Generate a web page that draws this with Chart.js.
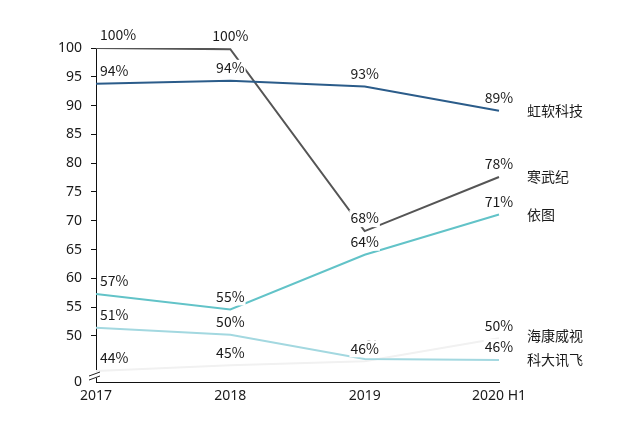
<!DOCTYPE html>
<html>
<head>
<meta charset="utf-8">
<script src="https://cdn.jsdelivr.net/npm/chart.js@4"></script>
<style>
  body { margin: 0; background: #fff; }
  #wrap { width: 625px; height: 435px; }
</style>
</head>
<body>
<div id="wrap"><canvas id="chart" width="625" height="435"></canvas></div>
<script>
const anos = ["2017", "2018", "2019", "2020 H1"];
const nomes = ["虹软科技", "寒武纪", "依图", "科大讯飞", "海康威视"];
const hongruan = [93.8, 94.3, 93.3, 89.1];
const hanwuji = [100, 99.8, 68.2, 77.6];
const yitu = [57.3, 54.6, 64.1, 71.1];
const keda = [51.4, 50.2, 46.0, 45.8];
const haikang = [43.9, 44.9, 45.6, 49.6];
const cores = ["#2b5c8a", "#555555", "#62c3c8", "#a3d8e0", "#f1f1f1"];
const yTicks = [42, 50, 55, 60, 65, 70, 75, 80, 85, 90, 95, 100];

const fonte = '14px "Noto Sans CJK SC", "Noto Sans", sans-serif';

// rótulos de dados + nomes das séries à direita + quebra do eixo
const rotulos = {
  id: "rotulos",
  afterDatasetsDraw(chart) {
    const ctx = chart.ctx;
    ctx.save();
    ctx.font = fonte;
    ctx.textBaseline = "middle";
    chart.data.datasets.forEach((ds, d) => {
      const meta = chart.getDatasetMeta(d);
      meta.data.forEach((pt, i) => {
        const txt = Math.round(ds.data[i]) + "%";
        const w = ctx.measureText(txt).width;
        const x = i === 0 ? pt.x + 4 : pt.x - w / 2;
        const y = pt.y - 13;
        ctx.fillStyle = "#fff";
        ctx.fillRect(x - 1, y - 8, w + 2, 17);
        ctx.fillStyle = "#1a1a1a";
        ctx.textAlign = "left";
        ctx.fillText(txt, x, y);
      });
      const last = meta.data[meta.data.length - 1];
      ctx.fillStyle = "#1a1a1a";
      ctx.textAlign = "left";
      ctx.fillText(ds.label, 527, last.y + (d === 4 ? -3 : 0));
    });
    // quebra do eixo y
    const x0 = chart.chartArea.left;
    const yb = chart.chartArea.bottom;
    ctx.fillStyle = "#fff";
    ctx.fillRect(x0 - 2, yb - 10, 4, 6);
    ctx.strokeStyle = "#222";
    ctx.lineWidth = 1;
    ctx.beginPath();
    ctx.moveTo(x0 - 7, yb - 6); ctx.lineTo(x0 + 4, yb - 10);
    ctx.moveTo(x0 - 7, yb - 2); ctx.lineTo(x0 + 4, yb - 6);
    ctx.stroke();
    ctx.restore();
  }
};

const series = [hongruan, hanwuji, yitu, keda, haikang];

new Chart(document.getElementById("chart"), {
  type: "line",
  data: {
    labels: anos,
    datasets: series.map((s, k) => ({
      label: nomes[k],
      data: s,
      borderColor: cores[k],
      backgroundColor: cores[k],
      borderWidth: 2,
      pointRadius: 0,
      tension: 0
    }))
  },
  options: {
    responsive: false,
    animation: false,
    layout: { padding: { top: 48, right: 126, bottom: 0, left: 0 } },
    plugins: { legend: { display: false }, tooltip: { enabled: false } },
    scales: {
      x: {
        offset: false,
        grid: { display: false },
        border: { display: true, color: "#111", width: 1 },
        ticks: { color: "#1a1a1a", font: { size: 14, family: '"Noto Sans", sans-serif' }, padding: -2, maxRotation: 0 },
        afterFit: s => { s.height = 53; }
      },
      y: {
        min: 42,
        max: 100,
        afterBuildTicks: s => { s.ticks = yTicks.map(v => ({ value: v })); },
        afterFit: s => { s.width = 96; },
        grid: {
          drawOnChartArea: false,
          tickLength: 5,
          tickColor: c => (c.tick && c.tick.value === 42 ? "rgba(0,0,0,0)" : "#111")
        },
        border: { display: true, color: "#111", width: 1 },
        ticks: {
          color: "#1a1a1a",
          font: { size: 14, family: '"Noto Sans", sans-serif' },
          padding: 9,
          callback: v => (v === 42 ? "0" : v)
        }
      }
    }
  },
  plugins: [rotulos]
});
</script>
</body>
</html>
